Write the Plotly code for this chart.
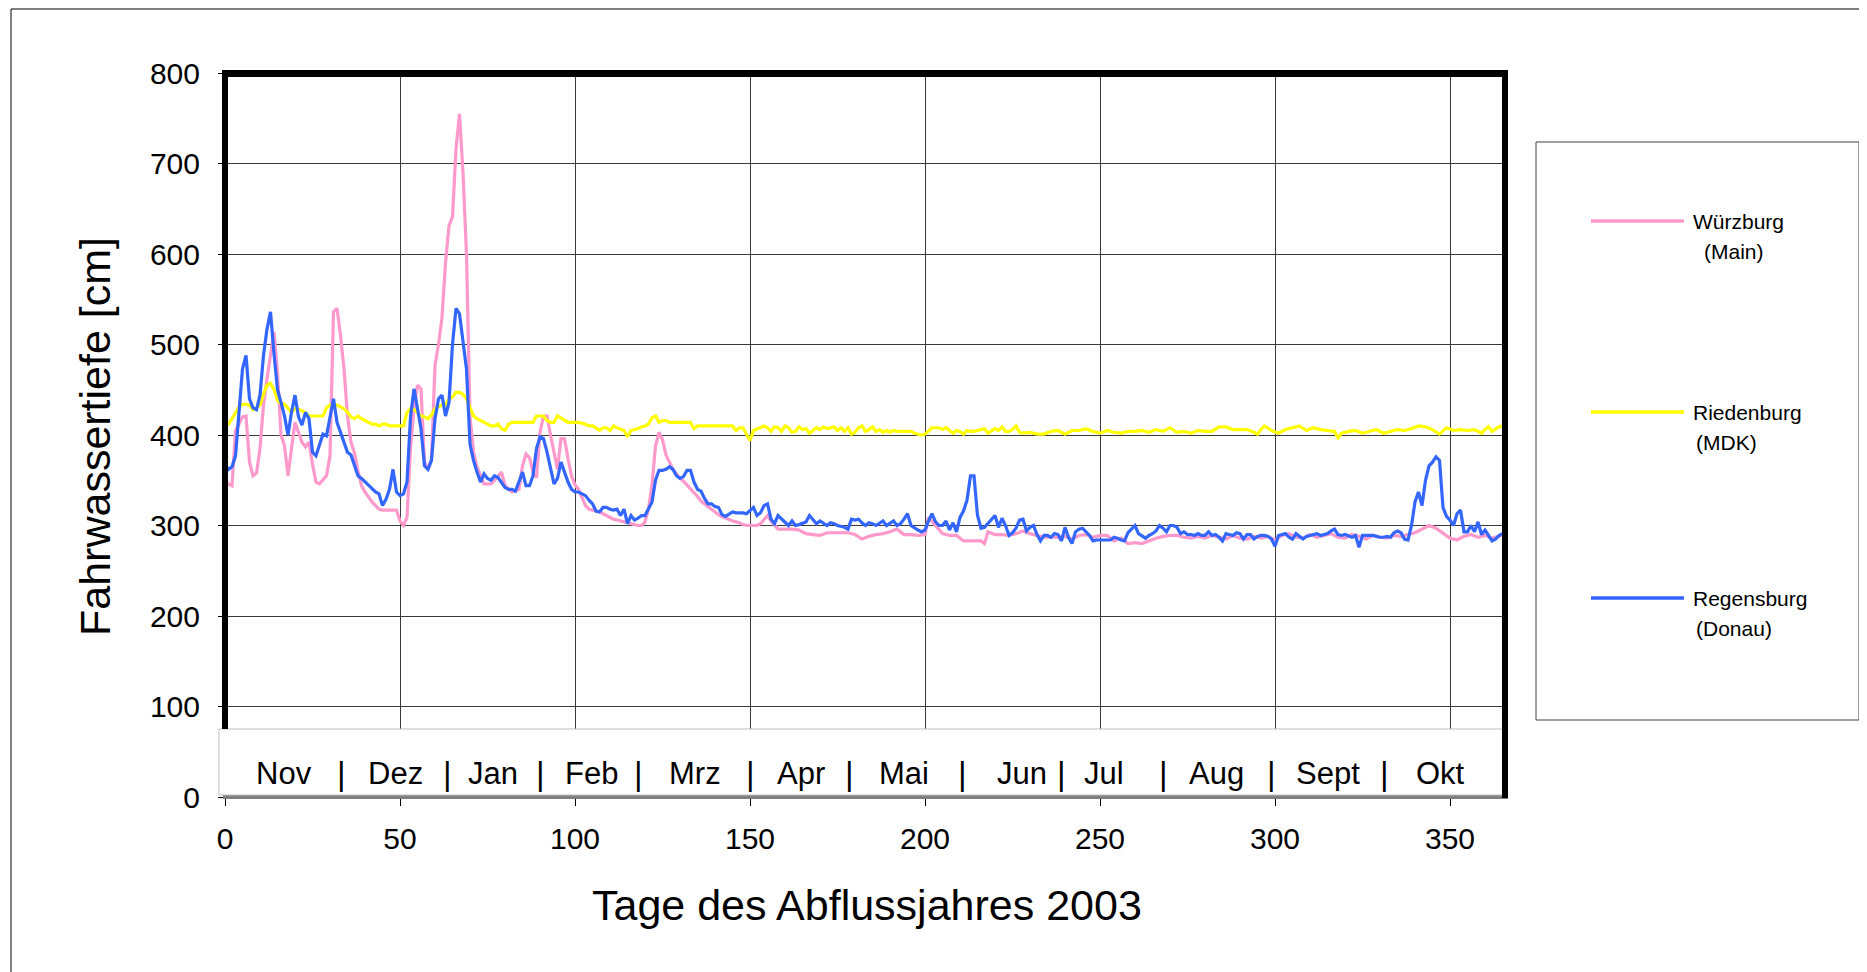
import plotly.graph_objects as go

# ---------------- data ----------------
wue_days = [0,1,2,3,4,5,6,7,8,9,10,11,12,13,14,15,16,17,18,19,20,21,22,23,24,25,26,27,28,29,30,31,32,33,34,35,36,37,38,39,
            40,41,42,43,44,45,46,47,48,49,50,51,52,53,54,55,56,57,58,59,60,61,62,63,64,65,66,67,68,69,70,71,72,73,74,75,76,77,78,79,
            80,81,82,83,84,85,86,87,88,89,90,91,92,93,94,95,96,97,98,99,100,101,102,103,104,105,106,107,108,109,110,111,112,113,114,115,116,117,118,119,
            120,121,122,123,124,125,126,127,128,129,130,131,132,133,134,135,136,137,138,139,140,141,142,143,144,145,146,147,148,149,150,151,152,153,154,155,156,157,158,
            160,162,164,166,168,170,172,174,176,178,180,182,184,186,188,190,192,194,196,198,200,201,203,205,207,209,211,213,215,216,217,218,
            220,222,224,226,228,230,232,234,236,238,240,242,244,246,248,250,252,254,256,258,260,262,264,266,268,270,272,274,276,278,
            280,282,284,286,288,290,292,294,296,298,300,302,304,306,308,310,312,314,316,318,320,322,324,326,328,330,332,334,336,338,
            340,342,344,346,348,350,352,354,356,358,360,362,364,365]
wue_vals = [350,346,344,405,412,420,421,370,355,358,385,433,462,488,514,469,400,388,355,385,414,403,392,387,392,368,348,346,350,355,377,536,540,510,473,421,392,380,360,344,
            337,331,326,322,318,317,317,317,317,317,305,300,309,385,430,455,451,370,362,374,477,500,530,590,631,641,716,755,690,600,420,381,365,355,346,346,346,350,355,359,
            344,340,337,338,340,366,379,375,359,353,403,421,421,400,381,362,396,396,374,355,345,340,331,322,318,317,316,315,313,311,309,307,306,305,304,303,302,301,300,300,
            304,318,345,388,403,395,378,370,362,357,352,349,345,341,336,332,327,324,320,318,315,312,310,308,306,305,304,303,301,300,300,300,300,302,306,311,305,300,296,
            296,296,295,291,290,289,292,292,292,292,290,285,288,290,291,293,296,290,290,289,290,309,300,291,289,289,283,283,283,283,280,293,
            290,290,289,291,294,291,289,287,287,287,288,285,289,290,287,289,289,283,286,280,281,280,283,286,288,289,289,287,286,288,
            286,289,287,285,289,286,285,288,286,288,284,289,291,287,286,290,287,289,291,287,286,290,288,285,289,287,286,289,288,290,
            292,296,300,297,291,286,284,288,290,287,289,286,288,290]

rie_days = list(range(0, 229)) + [230,232,234,236,238,240,242,244,246,248,250,252,254,256,258,260,262,264,266,268,270,272,274,276,278,
            280,282,284,286,288,290,292,294,295,296,297,299,301,303,305,307,309,311,313,315,317,318,319,321,323,325,327,329,331,333,335,337,339,
            341,343,345,347,349,351,353,355,357,359,360,361,362,364,365]
rie_vals = [410,412,418,425,431,434,434,433,428,430,433,445,455,457,450,438,435,434,430,425,429,428,427,424,421,421,421,421,421,430,
            433,433,433,431,429,425,420,418,421,418,416,414,412,412,410,412,412,410,410,410,410,410,425,429,428,425,421,420,418,422,
            429,431,433,433,440,442,447,447,445,440,430,421,418,416,414,412,410,410,412,407,405,412,414,414,414,414,414,414,414,421,
            421,421,416,414,414,421,419,417,414,414,414,414,413,412,410,410,408,405,408,408,405,410,408,406,405,398,405,406,407,409,
            410,412,419,421,414,416,416,414,414,414,414,414,414,414,407,410,410,410,410,410,410,410,410,410,410,410,405,408,408,400,
            394,405,407,408,410,408,404,409,408,404,410,408,403,404,409,406,407,402,405,408,406,409,407,408,409,405,408,404,408,401,
            403,408,410,404,406,409,404,406,403,405,403,405,404,404,404,404,404,402,401,400,401,405,408,408,408,406,408,405,402,405,
            404,401,405,404,404,405,406,407,402,405,407,405,409,404,404,406,410,403,402] + \
           [403,401,401,404,405,401,405,405,407,404,402,405,403,402,404,404,405,403,406,404,408,403,404,402,405,
            404,404,409,409,406,406,406,403,401,406,410,405,402,406,408,410,405,408,406,405,404,397,402,404,405,402,404,406,402,404,406,405,407,
            410,409,406,401,408,405,406,405,406,402,406,409,404,409,410]

reg_days = list(range(0, 251)) + list(range(252, 366))
reg_vals = [365,362,365,377,425,473,488,440,430,428,444,488,517,536,490,450,436,421,400,425,444,420,411,425,418,381,377,388,401,399,
            418,440,414,403,392,381,378,366,355,352,348,344,340,337,335,322,329,340,362,337,333,335,348,420,451,430,407,366,362,372,
            418,440,444,421,436,500,540,534,500,473,390,372,359,348,357,352,350,355,353,348,342,340,340,338,348,359,344,344,355,385,
            398,396,381,362,346,352,370,359,348,340,337,337,335,333,328,324,316,315,320,320,318,317,318,311,318,302,311,306,308,311,
            311,318,326,350,361,361,362,365,362,355,352,354,361,361,348,340,338,330,324,324,321,320,312,310,313,315,314,314,314,313,
            316,320,311,314,322,324,307,302,311,307,304,300,305,300,301,303,304,311,307,302,305,303,300,303,302,300,299,298,296,307,
            306,307,303,300,303,302,300,303,305,300,303,305,300,302,307,313,300,297,295,293,295,305,313,304,300,300,305,295,303,293,
            309,316,328,355,355,311,297,298,302,307,311,298,308,300,289,292,297,306,307,294,298,300,290,283,289,289,287,291,290,283,
            298,287,280,293,296,297,293,289,283,284,284] + \
           [284,284,287,286,284,283,292,296,300,291,288,286,289,291,294,300,297,293,300,300,298,291,293,290,290,289,291,289,
            289,293,289,290,287,283,291,290,289,292,291,285,290,290,285,288,289,289,288,285,277,289,290,291,287,285,291,288,285,288,
            289,290,291,289,290,291,294,296,290,289,290,288,287,289,276,289,289,289,289,288,287,287,288,287,292,294,292,285,284,300,
            326,337,322,350,366,370,376,372,320,310,306,300,313,317,293,293,300,293,304,290,295,289,283,285,289,291]

series_names = ["Würzburg", "Riedenburg", "Regensburg"]
series_sub = ["(Main)", "(MDK)", "(Donau)"]
series_colors = ["#FF99CC", "#FFFF00", "#3366FF"]

x_ticks = [0, 50, 100, 150, 200, 250, 300, 350]
y_ticks = [0, 100, 200, 300, 400, 500, 600, 700, 800]

months = ["Nov", "Dez", "Jan", "Feb", "Mrz", "Apr", "Mai", "Jun", "Jul", "Aug", "Sept", "Okt"]
month_pos = [16.9, 48.8, 76.5, 104.8, 134.2, 164.5, 194.0, 227.7, 251.2, 283.2, 315.2, 347.2]
sep_pos = [33.4, 63.7, 90.2, 118.2, 150.2, 178.5, 210.8, 238.9, 268.0, 299.1, 331.2]

x_title = "Tage des Abflussjahres 2003"
y_title = "Fahrwassertiefe [cm]"

# ---------------- geometry ----------------
# page coordinates of the reference; the page body adds an 8 px offset
OFF = 8
W, H = 1867 - OFF, 972 - OFF
L, R, T, B = 225 - OFF, 1506 - OFF, 73 - OFF, 797 - OFF
XMAX = 366
FONT = "Liberation Sans, Arial, sans-serif"

def px(X):
    return (X - OFF - L) / (R - L)

def py(Y):
    return (B - (Y - OFF)) / (B - T)

fig = go.Figure()
for days, vals, name, col in [(wue_days, wue_vals, series_names[0], series_colors[0]),
                              (rie_days, rie_vals, series_names[1], series_colors[1]),
                              (reg_days, reg_vals, series_names[2], series_colors[2])]:
    fig.add_trace(go.Scatter(x=days, y=vals, mode="lines", name=name,
                             line=dict(color=col, width=3.2), showlegend=False,
                             cliponaxis=True))

shapes = []
# outer chart border (right and bottom edges lie outside the visible page)
shapes.append(dict(type="rect", xref="paper", yref="paper", x0=px(11), x1=px(1880), y0=py(9), y1=py(990),
                   line=dict(color="black", width=1), fillcolor="rgba(0,0,0,0)", layer="below"))
# month band (shadow + white box)
shapes.append(dict(type="rect", xref="paper", yref="paper", x0=px(223), x1=px(1508), y0=py(733), y1=py(799),
                   line=dict(width=0), fillcolor="#7f7f7f", layer="above"))
shapes.append(dict(type="rect", xref="paper", yref="paper", x0=px(219), x1=px(1504), y0=py(729), y1=py(795),
                   line=dict(color="#bfbfbf", width=1), fillcolor="white", layer="above"))
# thick frame
shapes.append(dict(type="line", xref="paper", yref="paper", x0=px(222), x1=px(1508), y0=py(73.5), y1=py(73.5),
                   line=dict(color="black", width=7), layer="above"))
shapes.append(dict(type="line", xref="paper", yref="paper", x0=px(225), x1=px(225), y0=py(71), y1=py(729),
                   line=dict(color="black", width=6), layer="above"))
shapes.append(dict(type="line", xref="paper", yref="paper", x0=px(1505), x1=px(1505), y0=py(71), y1=py(798),
                   line=dict(color="black", width=6), layer="above"))
# legend box
shapes.append(dict(type="rect", xref="paper", yref="paper", x0=px(1536), x1=px(1859), y0=py(142), y1=py(720),
                   line=dict(color="#404040", width=1), fillcolor="white", layer="above"))
leg_line_y = [221, 412, 598]
leg_sub_y = [251, 442, 628]
leg_sub_x = [1702, 1694, 1694]
for yy, col in zip(leg_line_y, series_colors):
    shapes.append(dict(type="line", xref="paper", yref="paper", x0=px(1591), x1=px(1684), y0=py(yy), y1=py(yy),
                       line=dict(color=col, width=3.5), layer="above"))

annotations = []
for name, sub, yy, ys, xs in zip(series_names, series_sub, leg_line_y, leg_sub_y, leg_sub_x):
    annotations.append(dict(xref="paper", yref="paper", x=px(1691), y=py(yy), text=name, showarrow=False,
                            xanchor="left", yanchor="middle", font=dict(family=FONT, size=21, color="black")))
    annotations.append(dict(xref="paper", yref="paper", x=px(xs), y=py(ys), text=sub, showarrow=False,
                            xanchor="left", yanchor="middle", font=dict(family=FONT, size=21, color="black")))
# month labels
month_y = py(773)
for m, xm in zip(months, month_pos):
    annotations.append(dict(xref="x", yref="paper", x=xm, y=month_y, text=m, showarrow=False,
                            xanchor="center", yanchor="middle", font=dict(family=FONT, size=31, color="black")))
for xs in sep_pos:
    annotations.append(dict(xref="x", yref="paper", x=xs, y=month_y, text="|", showarrow=False,
                            xanchor="center", yanchor="middle", font=dict(family=FONT, size=33, color="black")))
# axis titles
annotations.append(dict(xref="paper", yref="paper", x=px(867), y=py(905), text=x_title, showarrow=False,
                        xanchor="center", yanchor="middle", font=dict(family=FONT, size=43, color="black")))
annotations.append(dict(xref="paper", yref="paper", x=px(95), y=py(437), text=y_title, showarrow=False,
                        textangle=-90, xanchor="center", yanchor="middle",
                        font=dict(family=FONT, size=43, color="black")))

fig.update_layout(
    width=W, height=H,
    margin=dict(l=L, r=W - R, t=T, b=H - B, pad=0),
    paper_bgcolor="white", plot_bgcolor="white",
    font=dict(family=FONT, color="black"),
    shapes=shapes, annotations=annotations,
    xaxis=dict(range=[0, XMAX], tickvals=x_ticks, ticktext=[str(v) for v in x_ticks],
               showgrid=True, gridcolor="#3a3a3a", gridwidth=1, zeroline=False,
               showline=True, linecolor="black", linewidth=1.5,
               ticks="outside", ticklen=7, tickcolor="black", tickwidth=1,
               tickfont=dict(family=FONT, size=30, color="black"), ticklabelstandoff=7),
    yaxis=dict(range=[0, 800], tickvals=y_ticks, ticktext=[str(v) for v in y_ticks],
               showgrid=True, gridcolor="#3a3a3a", gridwidth=1, zeroline=False,
               showline=False, ticks="outside", ticklen=6, tickcolor="black", tickwidth=1,
               tickfont=dict(family=FONT, size=30, color="black"), ticklabelstandoff=12),
)

fig.write_html("out.html")
